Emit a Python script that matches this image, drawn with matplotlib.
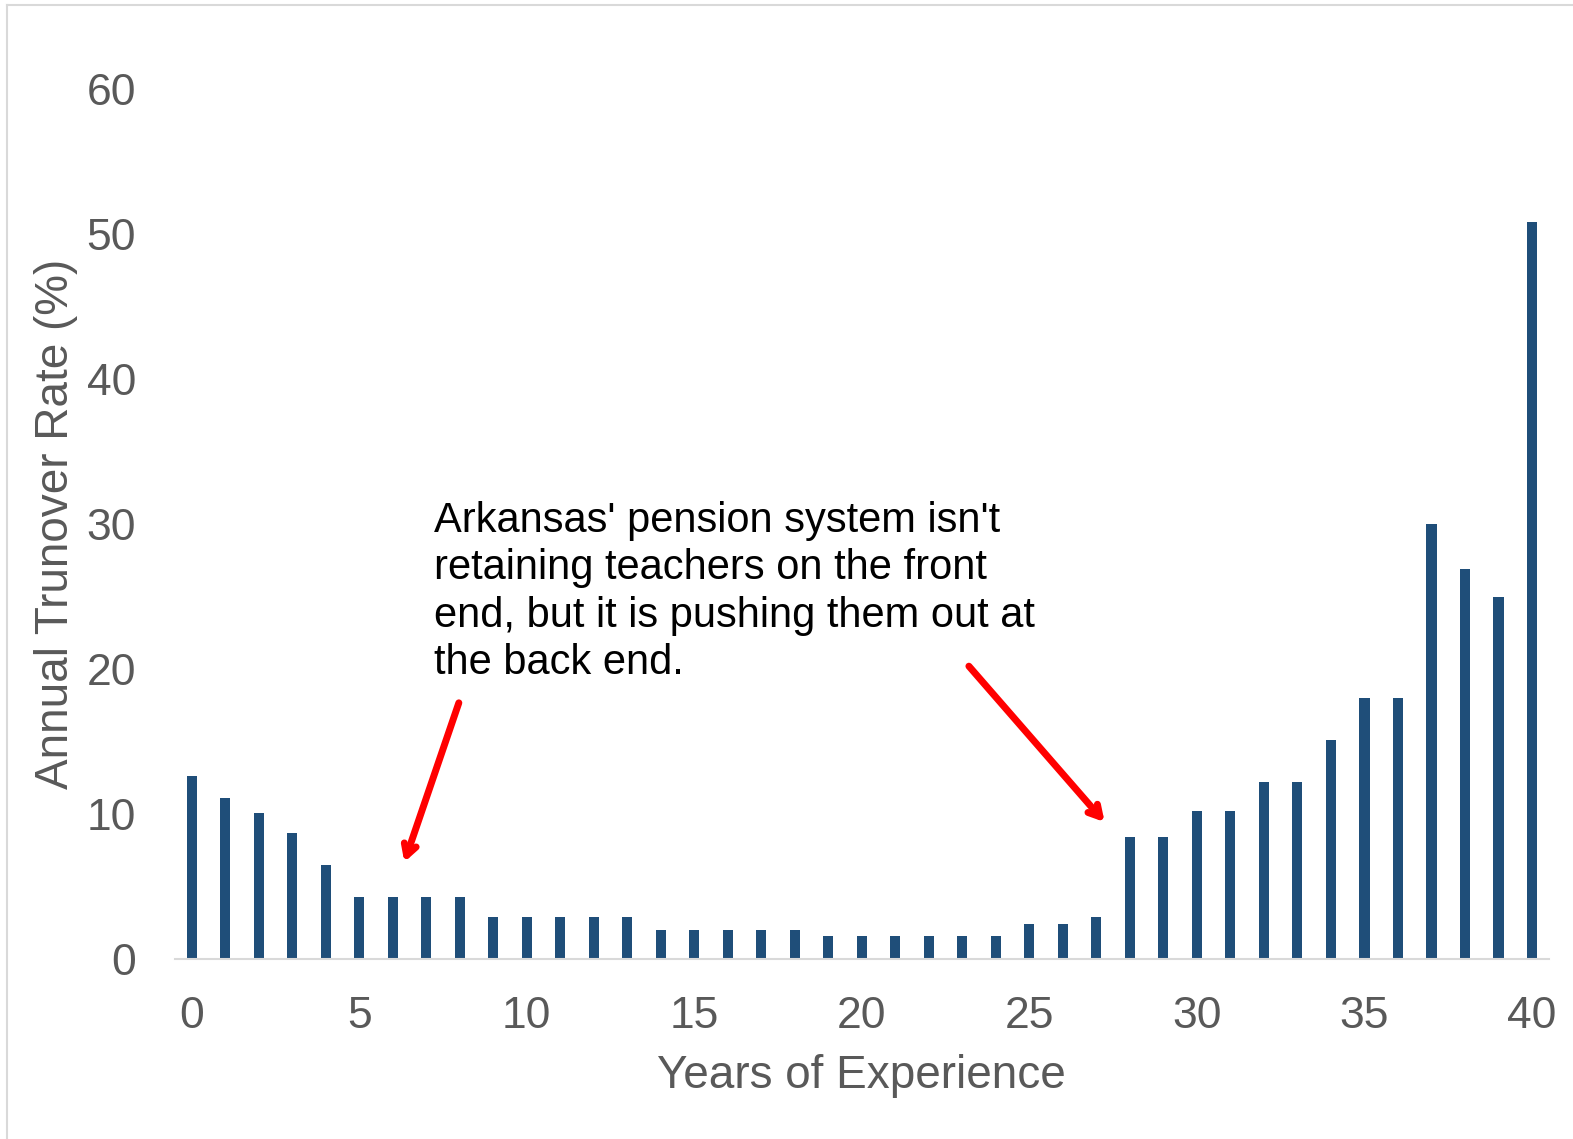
import numpy as np
import matplotlib.pyplot as plt
from matplotlib.lines import Line2D

plt.rcParams['font.family'] = ['Liberation Sans', 'DejaVu Sans']

# data
years = list(range(0, 41))
turnover_rate = [12.6, 11.1, 10.1, 8.7, 6.5,
                 4.3, 4.3, 4.3, 4.3,
                 2.9, 2.9, 2.9, 2.9, 2.9,
                 2.0, 2.0, 2.0, 2.0, 2.0,
                 1.6, 1.6, 1.6, 1.6, 1.6, 1.6,
                 2.4, 2.4, 2.9,
                 8.4, 8.4, 10.2, 10.2, 12.2, 12.2, 15.1, 18.0, 18.0,
                 30.0, 26.9, 25.0, 50.8]
x_ticks = [0, 5, 10, 15, 20, 25, 30, 35, 40]
y_ticks = [0, 10, 20, 30, 40, 50, 60]

note_text = ("Arkansas' pension system isn't\n"
             "retaining teachers on the front\n"
             "end, but it is pushing them out at\n"
             "the back end.")

bar_color = "#1f4e79"
label_color = "#595959"

fig = plt.figure(figsize=(15.73, 11.39), dpi=100)
ax = fig.add_axes([0.1112, 0.158, 0.8734, 0.7639])

ax.bar(years, turnover_rate, width=0.3, color=bar_color)

ax.set_xlim(-0.5, 40.5)
ax.set_ylim(0, 60)
ax.set_xticks(x_ticks)
ax.set_yticks(y_ticks)

for side in ["top", "right", "left"]:
    ax.spines[side].set_visible(False)
ax.spines["bottom"].set_color("#d9d9d9")
ax.spines["bottom"].set_linewidth(1.5)

ax.tick_params(axis="x", length=0, pad=26.5, labelsize=32, labelcolor=label_color)
ax.tick_params(axis="y", length=0, pad=28, labelsize=32, labelcolor=label_color)

ax.set_xlabel("Years of Experience", fontsize=33, color=label_color, labelpad=12)
ax.set_ylabel("Annual Trunover Rate (%)", fontsize=33, color=label_color, labelpad=6)

ax.text(7.22, 31.6, note_text, fontsize=30, color="black", va="top", ha="left",
        linespacing=1.24)

arrow_props = dict(arrowstyle="->,head_length=0.8,head_width=0.45", color="red", lw=5)
ax.annotate("", xy=(6.32, 6.5), xytext=(8.0, 17.85), arrowprops=arrow_props)
ax.annotate("", xy=(27.3, 9.3), xytext=(23.14, 20.34), arrowprops=arrow_props)

# light frame on the top and left edges
fig.add_artist(Line2D([0.0045, 0.0045], [0.0, 0.996], transform=fig.transFigure,
                      color="#d9d9d9", lw=1.5))
fig.add_artist(Line2D([0.0045, 1.0], [0.996, 0.996], transform=fig.transFigure,
                      color="#d9d9d9", lw=1.5))

fig.savefig("out.png", dpi=100)
